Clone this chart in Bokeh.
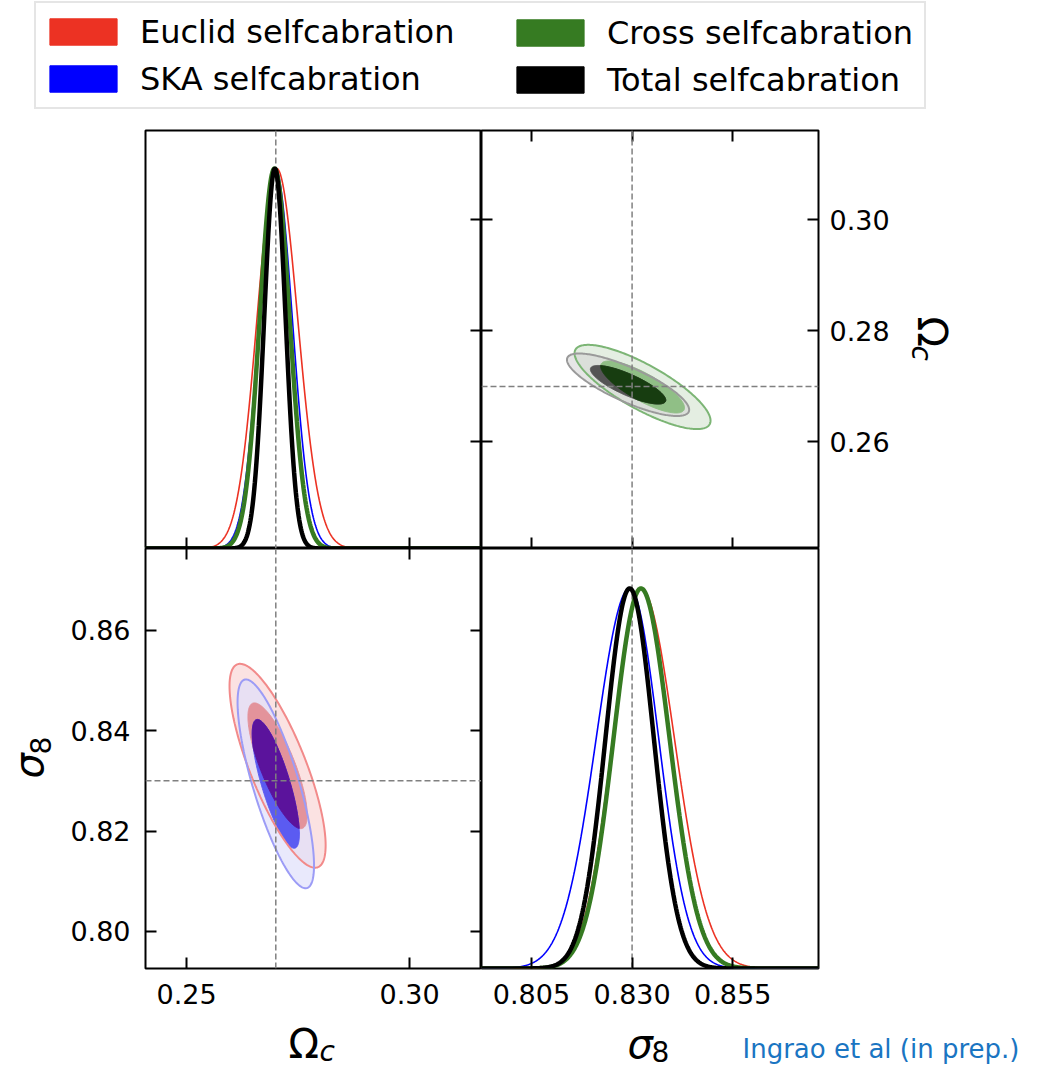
import numpy as np
from bokeh.plotting import figure
from bokeh.models import (Range1d, LinearAxis, FixedTicker, PrintfTickFormatter, Span, Label,
                          Legend, LegendItem)
from bokeh.layouts import column, row
from bokeh.embed import file_html
from bokeh.resources import INLINE

# ---------------- data ----------------
series = ["Euclid selfcabration", "SKA selfcabration", "Cross selfcabration", "Total selfcabration"]

# 1D marginals (peak position, left / right width) for Omega_c and sigma_8
omc_peak = [0.2702, 0.2699, 0.2697, 0.2698]
omc_sig_left = [0.0044, 0.0036, 0.0033, 0.0024]
omc_sig_right = [0.0047, 0.0038, 0.0034, 0.0024]
s8_peak = [0.8322, 0.8294, 0.8322, 0.8294]
s8_sig_left = [0.0070, 0.0083, 0.0068, 0.0060]
s8_sig_right = [0.0083, 0.0072, 0.0071, 0.0060]

# 2D contours (centre, widths, correlation)
c2_omc = [0.2704, 0.2700, 0.2699, 0.2703]
c2_s8 = [0.8330, 0.8294, 0.8326, 0.8290]
c2_sig_omc = [0.0044, 0.0035, 0.0031, 0.0023]
c2_sig_s8 = [0.0083, 0.0085, 0.0069, 0.0062]
c2_rho = [-0.78, -0.78, -0.80, -0.80]

fiducial_omc = 0.27
fiducial_s8 = 0.83

omc_range = [0.2408, 0.3161]
s8_range = [0.7926, 0.8763]
omc_ticks_x = [0.25, 0.30]
omc_ticks_y = [0.26, 0.28, 0.30]
s8_ticks_x = [0.805, 0.830, 0.855]
s8_ticks_y = [0.80, 0.82, 0.84, 0.86]

# ---------------- styles ----------------
FONT = "DejaVu Sans"
line_colors = ["#ec3223", "#0000ff", "#367b22", "#000000"]
line_widths = [1.6, 1.6, 4.5, 4.5]
fill_outer = ["#fbe2e2", "#e0e0fb", "#e4eee2", "#d6d6d6"]
fill_outer_alpha = [1.0, 0.7, 1.0, 0.6]
edge_outer = ["#f28a8a", "#9c9cf6", "#7cb575", "#9a9a9a"]
fill_inner = ["#e3939b", "#5b5bf1", "#90bf86", "#545454"]
overlap_fill = {0: "#5b139c", 2: "#173d10"}
Q68, Q95 = 2.279, 5.991


def split_gauss(x, mu, sl, sr):
    s = np.where(x < mu, sl, sr)
    return np.exp(-0.5 * ((x - mu) / s) ** 2)


def ellipse(k, q, transpose=False, n=240):
    sx, sy, r = c2_sig_omc[k], c2_sig_s8[k], c2_rho[k]
    cov = np.array([[sx * sx, r * sx * sy], [r * sx * sy, sy * sy]])
    L = np.linalg.cholesky(cov)
    t = np.linspace(0, 2 * np.pi, n, endpoint=False)
    pts = L @ np.vstack([np.cos(t), np.sin(t)]) * np.sqrt(q)
    x, y = c2_omc[k] + pts[0], c2_s8[k] + pts[1]
    if transpose:
        x, y = y[::-1], x[::-1]   # keep counter-clockwise order
    return x, y


def clip(subject, clipper):
    def inside(p, a, b):
        return (b[0] - a[0]) * (p[1] - a[1]) - (b[1] - a[1]) * (p[0] - a[0]) >= 0

    def inter(p1, p2, a, b):
        x1, y1 = p1; x2, y2 = p2; x3, y3 = a; x4, y4 = b
        d = (x1 - x2) * (y3 - y4) - (y1 - y2) * (x3 - x4)
        t = ((x1 - x3) * (y3 - y4) - (y1 - y3) * (x3 - x4)) / d
        return (x1 + t * (x2 - x1), y1 + t * (y2 - y1))

    out = list(subject)
    for i in range(len(clipper)):
        a, b = clipper[i - 1], clipper[i]
        inp, out = out, []
        if not inp:
            break
        s = inp[-1]
        for e in inp:
            if inside(e, a, b):
                if not inside(s, a, b):
                    out.append(inter(s, e, a, b))
                out.append(e)
            elif inside(s, a, b):
                out.append(inter(s, e, a, b))
            s = e
    return out


def make_panel(xr, yr, fw, fh, bl, br, bt, bb):
    p = figure(frame_width=fw, frame_height=fh, x_range=Range1d(*xr), y_range=Range1d(*yr),
               x_axis_location=None, y_axis_location=None, toolbar_location=None,
               output_backend="svg", min_border_left=bl, min_border_right=br,
               min_border_top=bt, min_border_bottom=bb)
    p.xgrid.visible = False
    p.ygrid.visible = False
    p.outline_line_color = "black"
    p.outline_line_width = 2
    p.outline_line_alpha = 1
    p.border_fill_color = "white"
    p.background_fill_color = "white"
    return p


def make_strip(w, h):
    s = figure(width=w, height=h, x_range=Range1d(0, 1), y_range=Range1d(0, 1),
               x_axis_location=None, y_axis_location=None, toolbar_location=None,
               output_backend="svg", min_border=0)
    s.xgrid.visible = False
    s.ygrid.visible = False
    s.outline_line_color = None
    s.border_fill_color = "white"
    s.background_fill_color = "white"
    return s


def add_axis(p, side, ticks, fmt=None, range_name=None, standoff=0):
    ax = LinearAxis(ticker=FixedTicker(ticks=ticks, minor_ticks=[]),
                    major_tick_in=11, major_tick_out=0, minor_tick_in=0, minor_tick_out=0,
                    major_tick_line_width=2, major_tick_line_color="black",
                    axis_line_color=None)
    if range_name:
        if side in ("left", "right"):
            ax.y_range_name = range_name
        else:
            ax.x_range_name = range_name
    if fmt:
        ax.formatter = PrintfTickFormatter(format=fmt)
        ax.major_label_text_font = FONT
        ax.major_label_text_font_size = "27px"
        ax.major_label_text_color = "black"
        ax.major_label_standoff = standoff
    else:
        ax.major_label_text_color = None
        ax.major_label_standoff = 0
    p.add_layout(ax, side)


def dashed(p, loc, dim, level="annotation"):
    p.add_layout(Span(location=loc, dimension=dim, line_color="#808080", line_width=1.5,
                      line_dash="6 3", level=level))


def draw_pair(p, i, j, transpose):
    outer = {k: ellipse(k, Q95, transpose) for k in (i, j)}
    inner = {k: ellipse(k, Q68, transpose) for k in (i, j)}
    for k in (i, j):
        x, y = outer[k]
        p.patch(x, y, fill_color=fill_outer[k], fill_alpha=fill_outer_alpha[k], line_color=None)
    for k in (i, j):
        x, y = inner[k]
        p.patch(x, y, fill_color=fill_inner[k], line_color=fill_inner[k], line_width=1)
    ov = clip(list(zip(*inner[i])), list(zip(*inner[j])))
    if ov:
        ox, oy = zip(*ov)
        p.patch(list(ox), list(oy), fill_color=overlap_fill[i], line_color=overlap_fill[i], line_width=1)
    for k in (i, j):
        x, y = outer[k]
        p.line(np.append(x, x[0]), np.append(y, y[0]), line_color=edge_outer[k], line_width=2)


def label(p, x, y, text, size, angle=0.0, style="normal", color="black", font=FONT):
    p.add_layout(Label(x=x, y=y, x_units="screen", y_units="screen", text=text,
                       text_font=font, text_font_size=size, text_font_style=style,
                       text_color=color, text_align="left", text_baseline="middle",
                       angle=angle))


# ---------------- legend strip ----------------
lf = make_strip(1043, 129)
nan = float("nan")
dummies = [lf.quad(left=[nan], right=[nan], top=[nan], bottom=[nan], fill_color=c, line_color=c)
           for c in line_colors]
common = dict(glyph_width=84, glyph_height=33, label_standoff=15, label_text_font=FONT,
              label_text_font_size="32px", label_text_color="black", label_height=47,
              padding=5, spacing=0, margin=0)
leg1 = Legend(items=[LegendItem(label=series[0], renderers=[dummies[0]]),
                     LegendItem(label=series[1], renderers=[dummies[1]])],
              location=(34, 20), border_line_color="#cccccc", border_line_width=2,
              background_fill_alpha=0.8, label_width=779, **common)
leg2 = Legend(items=[LegendItem(label=series[2], renderers=[dummies[2]]),
                     LegendItem(label=series[3], renderers=[dummies[3]])],
              location=(508, 26), border_line_color=None, background_fill_alpha=0,
              label_width=320, **common)
lf.add_layout(leg1)
lf.add_layout(leg2)

# ---------------- top-left: Omega_c marginal ----------------
tl = make_panel(omc_range, [0, 1.10], 336, 418, 145, 0, 1, 0)
tl.extra_y_ranges = {"omc": Range1d(*omc_range)}
add_axis(tl, "below", omc_ticks_x)
add_axis(tl, "right", omc_ticks_y, range_name="omc")
dashed(tl, fiducial_omc, "height", level="underlay")
xo = np.linspace(omc_range[0], omc_range[1], 600)
for k in range(4):
    tl.line(xo, split_gauss(xo, omc_peak[k], omc_sig_left[k], omc_sig_right[k]),
            line_color=line_colors[k], line_width=line_widths[k])

# ---------------- top-right: Omega_c vs sigma_8 ----------------
tr = make_panel(s8_range, omc_range, 337, 418, 0, 80, 1, 0)
add_axis(tr, "above", s8_ticks_x)
add_axis(tr, "below", s8_ticks_x)
add_axis(tr, "left", omc_ticks_y)
add_axis(tr, "right", omc_ticks_y, fmt="%.2f", standoff=11)
draw_pair(tr, 2, 3, transpose=True)
dashed(tr, fiducial_s8, "height")
dashed(tr, fiducial_omc, "width")

# right strip holding the rotated Omega_c label
rs = make_strip(145, 419)
label(rs, 33, 232, "Ω", "40px", angle=-np.pi / 2)
label(rs, 23, 203, "c", "28px", angle=-np.pi / 2, style="italic")

# ---------------- bottom-left: sigma_8 vs Omega_c ----------------
bl = make_panel(omc_range, s8_range, 336, 420, 85, 0, 0, 47)
add_axis(bl, "below", omc_ticks_x, fmt="%.2f", standoff=15)
add_axis(bl, "above", omc_ticks_x)
add_axis(bl, "left", s8_ticks_y, fmt="%.2f", standoff=15)
add_axis(bl, "right", s8_ticks_y)
draw_pair(bl, 0, 1, transpose=False)
dashed(bl, fiducial_omc, "height")
dashed(bl, fiducial_s8, "width")

# left strip holding the rotated sigma_8 label
ls = make_strip(60, 467)
label(ls, 28, 190, "σ", "40px", angle=np.pi / 2, style="italic")
label(ls, 40, 214, "8", "28px", angle=np.pi / 2)

# ---------------- bottom-right: sigma_8 marginal ----------------
br = make_panel(s8_range, [0, 1.105], 337, 420, 0, 225, 0, 47)
add_axis(br, "below", s8_ticks_x, fmt="%.3f", standoff=15)
dashed(br, fiducial_s8, "height", level="underlay")
xs = np.linspace(s8_range[0], s8_range[1], 600)
for k in range(4):
    br.line(xs, split_gauss(xs, s8_peak[k], s8_sig_left[k], s8_sig_right[k]),
            line_color=line_colors[k], line_width=line_widths[k])

# ---------------- bottom strip: axis labels and credit ----------------
bs = make_strip(1043, 53)
label(bs, 288, 25, "Ω", "40px")
label(bs, 319, 17, "c", "28px", style="italic")
label(bs, 627, 25, "σ", "40px", style="italic")
label(bs, 651, 17, "8", "28px")
label(bs, 742, 20, "Ingrao et al (in prep.)", "26px", color="#1a75c2")

layout = column(lf, row(tl, tr, rs), row(ls, bl, br), bs)
open("out.html", "w").write(file_html(layout, INLINE, title="corner plot"))
